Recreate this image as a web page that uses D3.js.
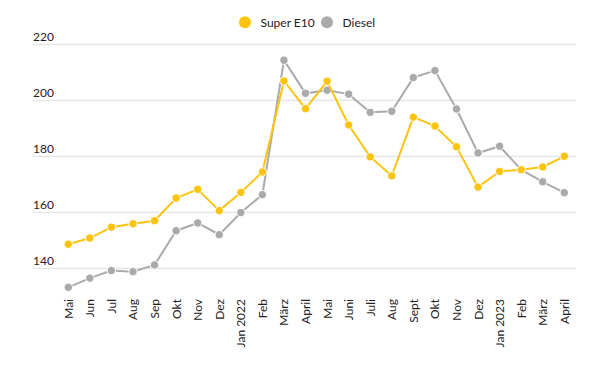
<!DOCTYPE html>
<html><head><meta charset="utf-8">
<script src="https://cdn.jsdelivr.net/npm/d3@7"></script>
<style>body{margin:0;background:#fff;} svg{display:block;font-family:Lato,"Open Sans",sans-serif;}</style>
</head><body><svg id="c" width="610" height="367"></svg>
<script>
const categories = ["Mai","Jun","Jul","Aug","Sep","Okt","Nov","Dez","Jan 2022","Feb","März","April","Mai","Juni","Juli","Aug","Sept","Okt","Nov","Dez","Jan 2023","Feb","März","April"];
const superE10 = [148.6,150.8,154.7,155.9,157.0,165.1,168.2,160.6,167.1,174.4,206.9,197.0,206.8,191.2,179.8,173.0,194.0,190.8,183.4,169.0,174.6,175.2,176.2,180.0];
const diesel = [133.2,136.5,139.2,138.8,141.2,153.4,156.2,152.0,159.9,166.3,214.3,202.5,203.6,202.2,195.7,196.1,208.1,210.6,196.9,181.2,183.6,175.2,170.9,167.0];
const yTicks = [140,160,180,200,220];
const seriesNames = ["Super E10","Diesel"];
const colors = ["#fcc30f","#aaaaaa"];

const svg = d3.select("#c");
const x = d3.scalePoint().domain(d3.range(categories.length)).range([68.3,564.3]);
const y = d3.scaleLinear().domain([140,220]).range([268.3,44.3]);

const g = svg.append("g");
yTicks.forEach(t=>{
  g.append("line").attr("x1",33).attr("x2",576).attr("y1",y(t)).attr("y2",y(t))
   .attr("stroke","#dddddd").attr("stroke-width",1);
  g.append("text").attr("x",33).attr("y",y(t)-3).text(t)
   .attr("font-size",12).attr("fill","#222");
});

categories.forEach((c,i)=>{
  svg.append("text").attr("transform",`translate(${x(i)+4.5},299) rotate(-90)`)
    .attr("text-anchor","end").attr("font-size",12).attr("fill","#222").text(c);
});

const line = d3.line().x((d,i)=>x(i)).y(d=>y(d));
[diesel, superE10].forEach((s,k)=>{
  const col = k===0?colors[1]:colors[0];
  svg.append("path").attr("d",line(s)).attr("fill","none").attr("stroke",col).attr("stroke-width",2);
  svg.selectAll(null).data(s).enter().append("circle")
    .attr("cx",(d,i)=>x(i)).attr("cy",d=>y(d)).attr("r",4.2)
    .attr("fill",col).attr("stroke","#fff").attr("stroke-width",1);
});

const leg = [{n:seriesNames[0],c:colors[0],x:245},{n:seriesNames[1],c:colors[1],x:327}];
leg.forEach(l=>{
  svg.append("circle").attr("cx",l.x).attr("cy",22.3).attr("r",6).attr("fill",l.c);
  svg.append("text").attr("x",l.x+15.5).attr("y",26.5).attr("font-size",12).attr("fill","#222").text(l.n);
});
</script></body></html>
